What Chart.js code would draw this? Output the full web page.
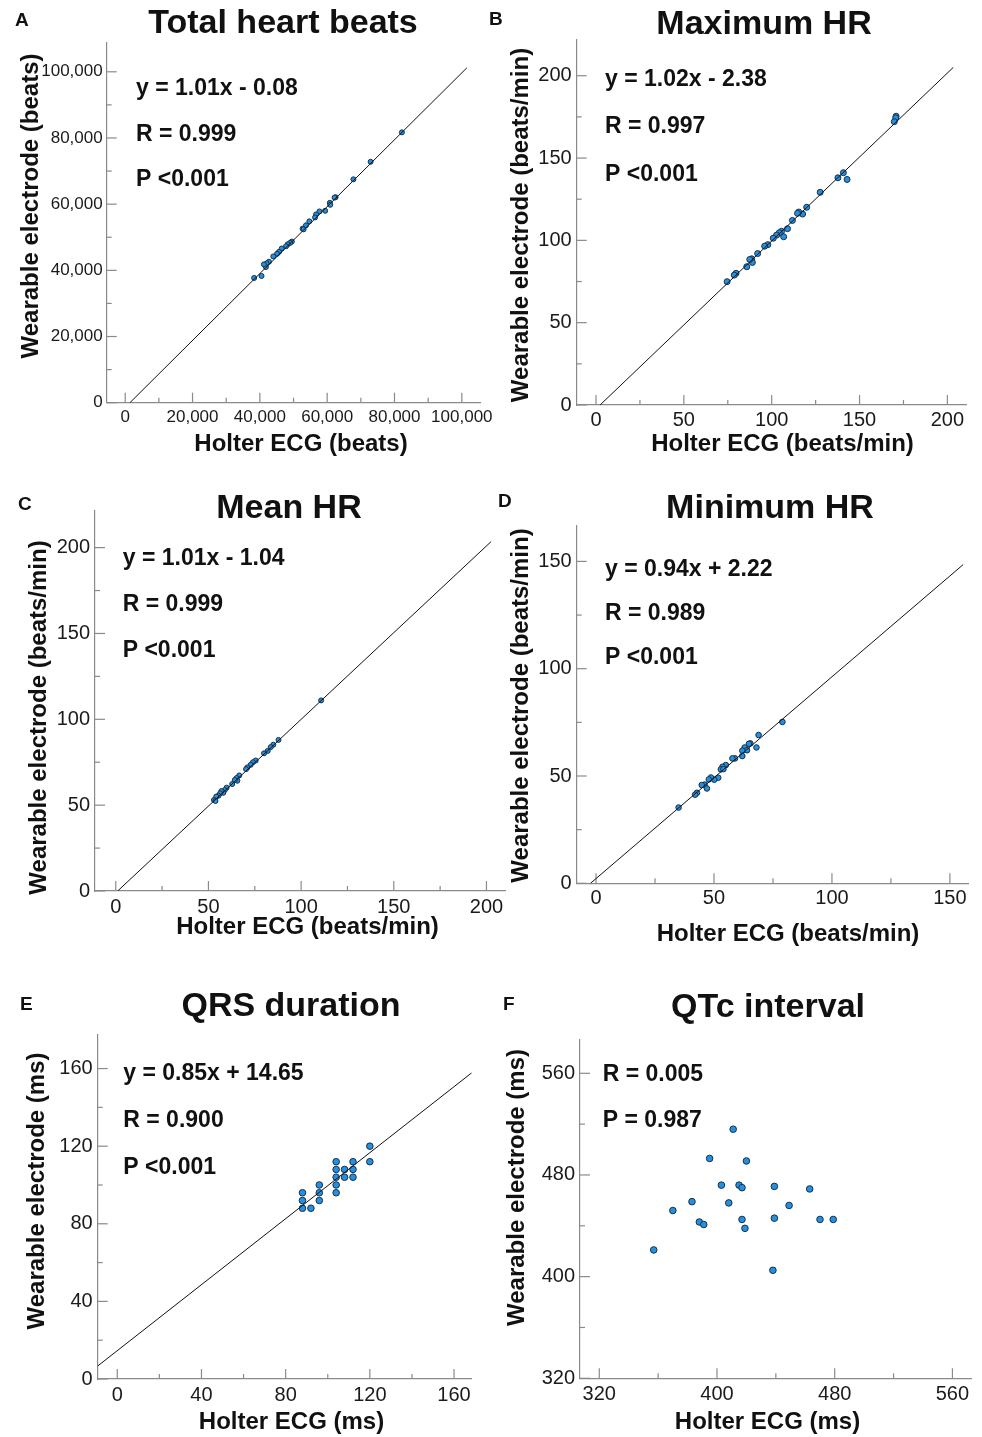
<!DOCTYPE html>
<html>
<head>
<meta charset="utf-8">
<script src="https://cdn.jsdelivr.net/npm/chart.js@4.4.0/dist/chart.umd.min.js"></script>
<style>
  body { margin: 0; background: #fff; width: 982px; height: 1437px; position: relative; overflow: hidden; }
  .panel { position: absolute; }
  canvas { display: block; }
</style>
</head>
<body>
<div class="panel" id="pA"><canvas id="cA"></canvas></div>
<div class="panel" id="pB"><canvas id="cB"></canvas></div>
<div class="panel" id="pC"><canvas id="cC"></canvas></div>
<div class="panel" id="pD"><canvas id="cD"></canvas></div>
<div class="panel" id="pE"><canvas id="cE"></canvas></div>
<div class="panel" id="pF"><canvas id="cF"></canvas></div>
<script>
// values (Holter = x, wearable = y)
const totalHolter   = [82200, 72900, 67800, 62500, 62200, 60800, 60900, 59400, 57700, 56700, 56400, 54700, 53700, 52700, 53000, 49500, 49000, 48300, 47800, 46500, 45700, 45100, 44000, 42700, 42000, 41800, 41200, 40500, 38300];
const totalWearable = [81700, 72800, 67500, 62100, 62000, 60400, 59800, 58000, 57800, 56900, 56000, 54800, 53600, 52600, 52400, 48700, 48300, 47900, 47300, 46600, 45600, 45000, 44200, 42600, 42100, 41000, 41800, 38300, 37700];
const totalFitX = [1390, 101500];
const totalFitY = [0, 101200];

const maxHolter   = [170.8, 170.6, 169.8, 140.8, 137.7, 142.9, 127.6, 119.9, 117.6, 115.4, 114.7, 111.8, 109.0, 106.8, 105.6, 104.3, 102.8, 100.9, 97.8, 96.0, 92.0, 88.6, 89.0, 87.5, 85.8, 79.7, 78.7, 74.6];
const maxWearable = [175.4, 174.4, 172.1, 141.1, 138.0, 137.0, 129.2, 120.1, 116.0, 117.2, 116.4, 112.1, 107.1, 102.2, 105.5, 104.6, 103.2, 101.3, 97.4, 96.5, 92.0, 88.8, 86.6, 88.4, 84.0, 80.0, 78.9, 74.9];
const maxFitX = [2.3, 203.4];
const maxFitY = [0, 205.1];

const meanHolter   = [110.8, 87.8, 85.0, 83.6, 82.0, 80.0, 75.5, 74.0, 72.8, 71.0, 70.3, 66.6, 65.2, 65.6, 64.2, 62.8, 59.8, 58.8, 58.0, 57.0, 56.3, 55.4, 54.2, 53.0, 53.8];
const meanWearable = [111.0, 88.0, 85.2, 83.8, 81.6, 80.2, 76.0, 75.0, 73.5, 72.0, 71.0, 67.3, 65.8, 64.2, 64.6, 62.3, 60.2, 58.8, 57.2, 58.2, 56.9, 55.5, 55.0, 53.0, 52.4];
const meanFitX = [1.03, 202.5];
const meanFitY = [0, 203.5];

const minHolter   = [79.0, 68.9, 68.0, 65.4, 64.8, 63.0, 64.0, 62.0, 62.0, 58.9, 57.8, 55.0, 53.6, 52.9, 54.0, 51.8, 50.1, 48.7, 47.8, 46.0, 44.8, 47.0, 42.8, 42.0, 35.0];
const minWearable = [75.2, 69.1, 63.3, 65.2, 65.0, 63.3, 62.0, 61.8, 59.3, 58.2, 58.2, 55.1, 54.3, 53.1, 53.2, 49.2, 48.3, 49.3, 48.4, 46.0, 45.8, 44.2, 42.2, 41.3, 35.3];
const minFitX = [-2.36, 155.6];
const minFitY = [0, 148.5];

const qrsHolter   = [88, 88, 88, 92, 96, 96, 96, 104, 104, 104, 104, 104, 108, 108, 112, 112, 112, 120, 120];
const qrsWearable = [96, 92, 88, 88, 100, 96, 92, 112, 108, 104, 100, 96, 108, 104, 112, 108, 104, 120, 112];
const qrsFitX = [-9.3, 168.4];
const qrsFitY = [6.7, 157.8];

const qtcHolter   = [411, 395, 420, 403, 415, 417, 439, 463, 383, 408, 449, 370, 439, 417, 470, 479, 388, 391, 419, 357, 438];
const qtcWearable = [516, 493, 491, 472, 472, 470, 471, 469, 459, 458, 456, 452, 446, 445, 445, 445, 443, 441, 438, 421, 405];

const FONT = '"Liberation Sans", Arial, Helvetica, sans-serif';
const AXIS = '#8a8a8a';
const DOT = '#2391e3';
const DOT_EDGE = '#1a2f45';

// page coordinates for every panel: box = canvas, area = plot area
const panels = [
  { id: 'A', box: [0, 0, 500, 470], area: [106.7, 43, 480, 402.7],
    xs: totalHolter, ys: totalWearable, fitX: totalFitX, fitY: totalFitY, r: 2.5,
    x: { min: -5500, max: 105400, minor: 10000, major: 20000, pad: 4.6 },
    y: { min: 0, max: 108700, minor: 10000, major: 20000, pad: 4 },
    tickSize: 17, comma: true,
    title: ['Total heart beats', 283, 24], letter: [15, 21],
    yTitle: ['Wearable electrode (beats)', 31.7, 206], xTitle: ['Holter ECG (beats)', 301, 444],
    stats: ['y = 1.01x - 0.08', 'R = 0.999', 'P <0.001'], statX: 136, statY: [89, 135, 180] },
  { id: 'B', box: [488, 0, 494, 470], area: [576.7, 40, 966.7, 405],
    xs: maxHolter, ys: maxWearable, fitX: maxFitX, fitY: maxFitY, r: 3,
    x: { min: -11, max: 211, minor: 25, major: 50, pad: 3.5 },
    y: { min: 0, max: 221.7, minor: 25, major: 50, pad: 5 },
    tickSize: 20,
    title: ['Maximum HR', 764, 25], letter: [489, 20],
    yTitle: ['Wearable electrode (beats/min)', 521.7, 225], xTitle: ['Holter ECG (beats/min)', 782.5, 444],
    stats: ['y = 1.02x - 2.38', 'R = 0.997', 'P <0.001'], statX: 605, statY: [80, 127, 175] },
  { id: 'C', box: [0, 475, 515, 480], area: [95, 510.7, 505, 891],
    xs: meanHolter, ys: meanWearable, fitX: meanFitX, fitY: meanFitY, r: 2.5,
    x: { min: -11.2, max: 210, minor: 25, major: 50, pad: 4.8 },
    y: { min: 0, max: 221.5, minor: 25, major: 50, pad: 5 },
    tickSize: 20,
    title: ['Mean HR', 289, 509], letter: [18, 505],
    yTitle: ['Wearable electrode (beats/min)', 39, 717.5], xTitle: ['Holter ECG (beats/min)', 307.5, 927],
    stats: ['y = 1.01x - 1.04', 'R = 0.999', 'P <0.001'], statX: 122.7, statY: [559, 605, 651] },
  { id: 'D', box: [488, 475, 494, 480], area: [576.7, 526, 968.3, 883.3],
    xs: minHolter, ys: minWearable, fitX: minFitX, fitY: minFitY, r: 2.8,
    x: { min: -8.2, max: 157.8, minor: 25, major: 50, pad: 3 },
    y: { min: 0, max: 166.5, minor: 25, major: 50, pad: 5 },
    tickSize: 20,
    title: ['Minimum HR', 770, 509], letter: [498, 502],
    yTitle: ['Wearable electrode (beats/min)', 521.7, 705.5], xTitle: ['Holter ECG (beats/min)', 788, 934],
    stats: ['y = 0.94x + 2.22', 'R = 0.989', 'P <0.001'], statX: 605, statY: [570, 614, 658] },
  { id: 'E', box: [0, 970, 500, 467], area: [97.7, 1035, 471.7, 1379],
    xs: qrsHolter, ys: qrsWearable, fitX: qrsFitX, fitY: qrsFitY, r: 3.3,
    x: { min: -9.3, max: 168.4, minor: 20, major: 40, pad: 4 },
    y: { min: 0, max: 177.3, minor: 20, major: 40, pad: 5 },
    tickSize: 20,
    title: ['QRS duration', 291, 1007], letter: [20, 1005],
    yTitle: ['Wearable electrode (ms)', 37.5, 1191], xTitle: ['Holter ECG (ms)', 291.5, 1422],
    stats: ['y = 0.85x + 14.65', 'R = 0.900', 'P <0.001'], statX: 123.3, statY: [1074, 1121, 1168] },
  { id: 'F', box: [488, 970, 494, 467], area: [580, 1040, 971.7, 1378.3],
    xs: qtcHolter, ys: qtcWearable, fitX: null, fitY: null, r: 3.3,
    x: { min: 306.9, max: 573.1, minor: 40, major: 80, pad: 3.7 },
    y: { min: 320, max: 586.2, minor: 40, major: 80, pad: 5 },
    tickSize: 20,
    title: ['QTc interval', 768, 1008], letter: [503, 1005],
    yTitle: ['Wearable electrode (ms)', 517.5, 1187.5], xTitle: ['Holter ECG (ms)', 767.5, 1422],
    stats: ['R = 0.005', 'P = 0.987'], statX: 602.7, statY: [1075, 1121] }
];

function isMajor(v, step) {
  const q = v / step;
  return Math.abs(q - Math.round(q)) < 1e-6;
}

// inward tick marks and all the captions
function makeDecor(p) {
  const ox = p.box[0], oy = p.box[1];
  return {
    id: 'decor' + p.id,
    beforeDatasetsDraw(chart) {
      const ctx = chart.ctx, a = chart.chartArea;
      ctx.save();
      ctx.strokeStyle = AXIS;
      ctx.lineWidth = 1.2;
      ['x', 'y'].forEach(id => {
        const s = chart.scales[id];
        s.ticks.forEach(t => {
          const len = isMajor(t.value, p[id].major) ? 10 : 5;
          const pix = s.getPixelForValue(t.value);
          ctx.beginPath();
          if (id === 'x') { ctx.moveTo(pix, a.bottom); ctx.lineTo(pix, a.bottom - len); }
          else { ctx.moveTo(a.left, pix); ctx.lineTo(a.left + len, pix); }
          ctx.stroke();
        });
      });
      ctx.restore();
    },
    afterDraw(chart) {
      const ctx = chart.ctx;
      ctx.save();
      ctx.fillStyle = '#111';
      ctx.textBaseline = 'middle';

      ctx.font = 'bold 19px ' + FONT;
      ctx.textAlign = 'left';
      ctx.fillText(p.id, p.letter[0] - ox, p.letter[1] - oy);

      ctx.font = 'bold 34px ' + FONT;
      ctx.textAlign = 'center';
      ctx.fillText(p.title[0], p.title[1] - ox, p.title[2] - oy);

      ctx.font = 'bold 24px ' + FONT;
      ctx.fillText(p.xTitle[0], p.xTitle[1] - ox, p.xTitle[2] - oy);
      ctx.save();
      ctx.translate(p.yTitle[1] - ox, p.yTitle[2] - oy);
      ctx.rotate(-Math.PI / 2);
      ctx.fillText(p.yTitle[0], 0, 0);
      ctx.restore();

      ctx.font = 'bold 23px ' + FONT;
      ctx.textAlign = 'left';
      p.stats.forEach((s, i) => ctx.fillText(s, p.statX - ox, p.statY[i] - oy));
      ctx.restore();
    }
  };
}

function axisOpts(p, id) {
  const ax = p[id];
  const opts = {
    type: 'linear',
    min: ax.min,
    max: ax.max,
    grid: { display: false, drawTicks: false },
    border: { display: true, color: AXIS, width: 1.2 },
    title: { display: false },
    // one tick per minor step, labels only on the major ones
    afterBuildTicks: s => {
      const out = [];
      for (let k = Math.ceil(ax.min / ax.minor); k * ax.minor <= ax.max; k++) out.push({ value: k * ax.minor + 0 });
      s.ticks = out;
    },
    ticks: {
      autoSkip: false,
      maxRotation: 0,
      minRotation: 0,
      padding: ax.pad,
      color: '#1a1a1a',
      font: { family: FONT, size: p.tickSize },
      callback: v => {
        if (!isMajor(v, ax.major)) return '';
        const n = Math.abs(v) < 1e-9 ? 0 : v;
        return p.comma ? n.toLocaleString('en-US') : String(n);
      }
    }
  };
  if (id === 'y') opts.afterFit = s => { s.width = p.area[0] - p.box[0]; };
  else opts.afterFit = s => { s.height = p.box[1] + p.box[3] - p.area[3]; };
  return opts;
}

panels.forEach(p => {
  const wrap = document.getElementById('p' + p.id);
  wrap.style.left = p.box[0] + 'px';
  wrap.style.top = p.box[1] + 'px';
  wrap.style.width = p.box[2] + 'px';
  wrap.style.height = p.box[3] + 'px';
  const canvas = document.getElementById('c' + p.id);
  canvas.width = p.box[2];
  canvas.height = p.box[3];

  const datasets = [{
    data: p.xs.map((x, i) => ({ x: x, y: p.ys[i] })),
    pointRadius: p.r,
    pointBackgroundColor: DOT,
    pointBorderColor: DOT_EDGE,
    pointBorderWidth: 1,
    order: 1
  }];
  if (p.fitX) {
    datasets.push({
      data: p.fitX.map((x, i) => ({ x: x, y: p.fitY[i] })),
      showLine: true,
      borderColor: '#111',
      borderWidth: 1,
      pointRadius: 0,
      order: 0
    });
  }

  new Chart(canvas, {
    type: 'scatter',
    data: { datasets: datasets },
    options: {
      responsive: false,
      animation: false,
      layout: {
        autoPadding: false,
        padding: { left: 0, bottom: 0, top: p.area[1] - p.box[1], right: p.box[0] + p.box[2] - p.area[2] }
      },
      plugins: { legend: { display: false }, tooltip: { enabled: false }, title: { display: false } },
      scales: { x: axisOpts(p, 'x'), y: axisOpts(p, 'y') }
    },
    plugins: [makeDecor(p)]
  });
});
</script>
</body>
</html>
